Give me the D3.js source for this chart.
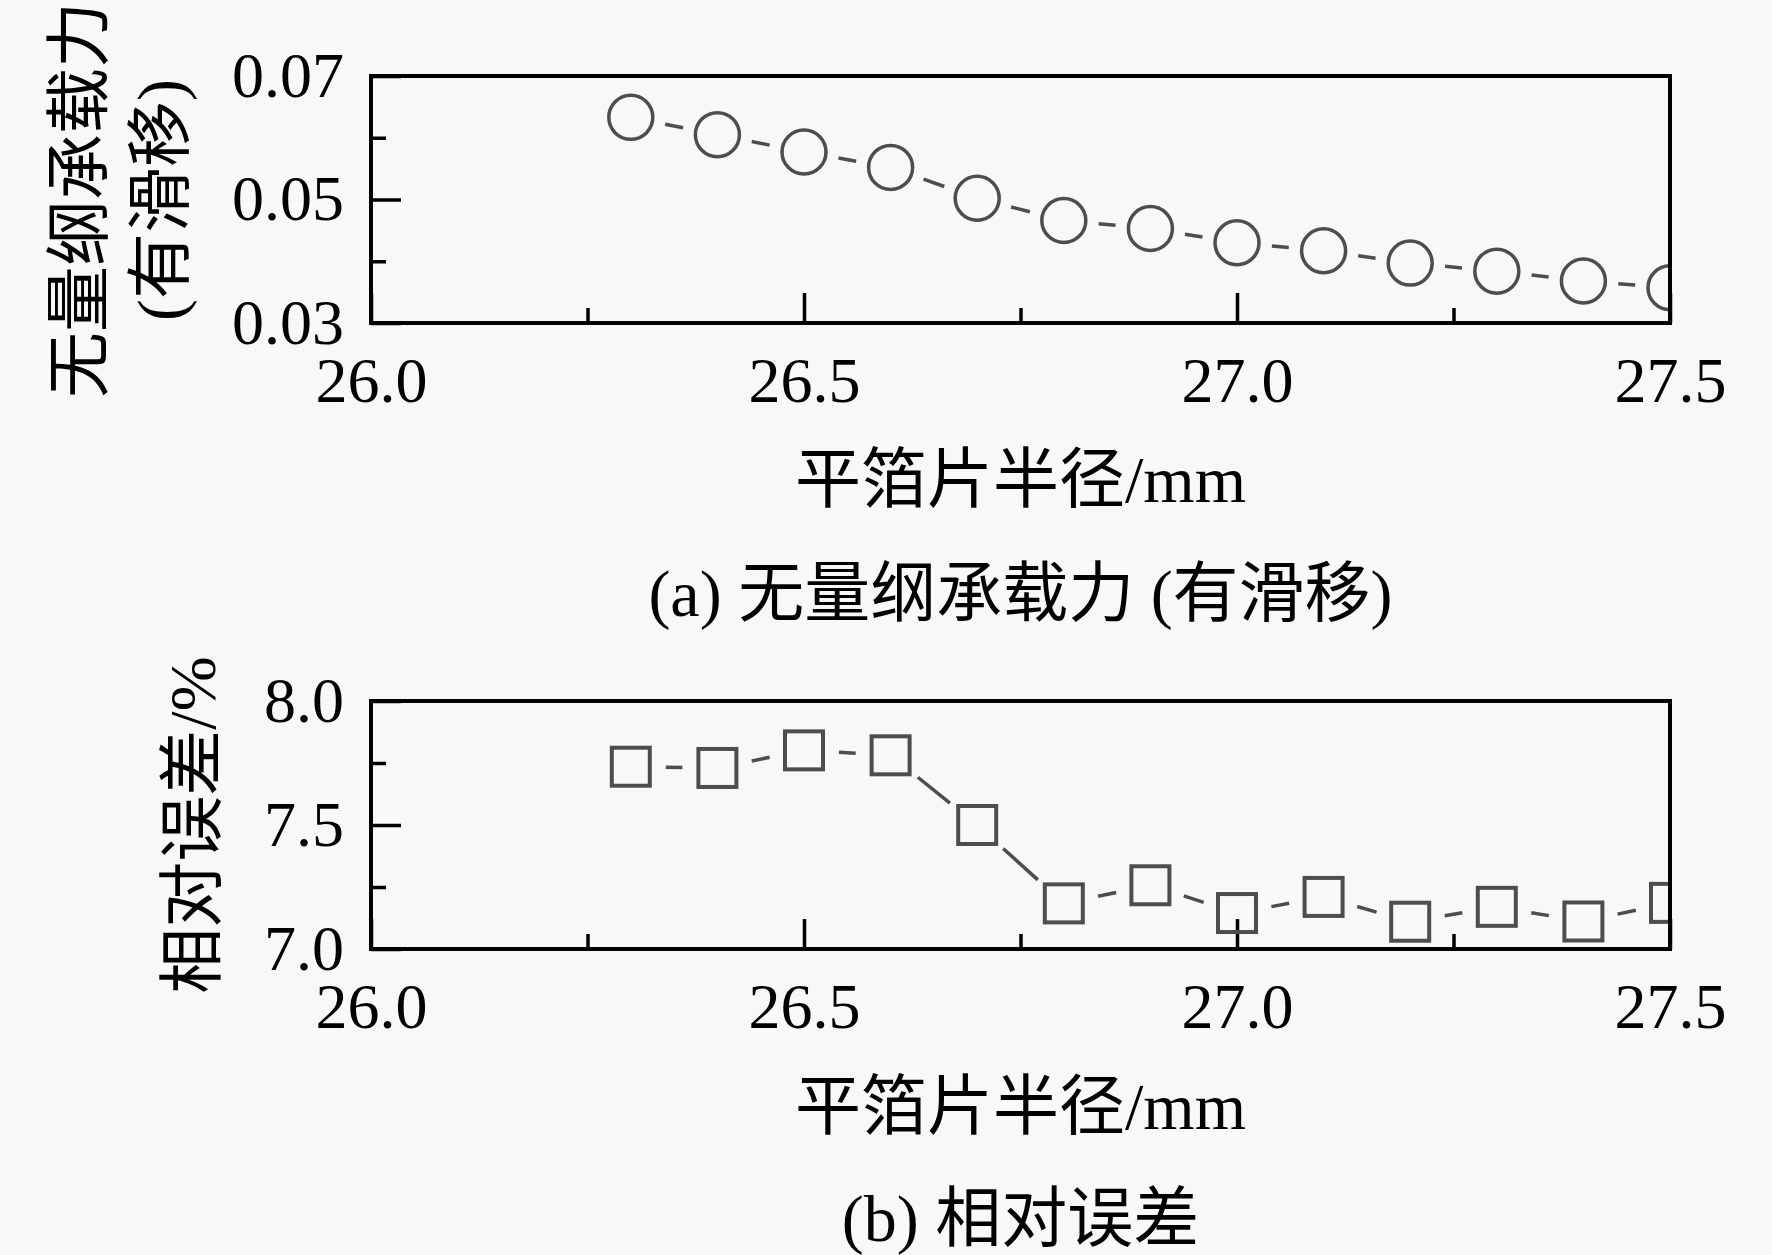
<!DOCTYPE html>
<html>
<head>
<meta charset="utf-8">
<script src="https://cdn.jsdelivr.net/npm/d3@7"></script>
<style>
  html, body { margin: 0; padding: 0; background: #f8f8f8; }
  svg { display: block; }
  text { font-family: "Liberation Serif", "Times New Roman", "Noto Sans CJK SC", serif; fill: #000; }
</style>
</head>
<body>
<script>
// ---- data ----
const radius = [26.3, 26.4, 26.5, 26.6, 26.7, 26.8, 26.9, 27.0, 27.1, 27.2, 27.3, 27.4, 27.5];
const loadCapacity = [0.0633, 0.0605, 0.0577, 0.0552, 0.0502, 0.0466, 0.0453, 0.0430, 0.0417, 0.0397, 0.0384, 0.0368, 0.0357];
const relError = [7.735, 7.730, 7.801, 7.781, 7.500, 7.184, 7.257, 7.145, 7.210, 7.110, 7.170, 7.111, 7.186];

const xTicks = [26.0, 26.5, 27.0, 27.5];
const xMinorTicks = [26.25, 26.75, 27.25];
const yTicksA = [0.03, 0.05, 0.07];
const yMinorA = [0.04, 0.06];
const yTicksB = [7.0, 7.5, 8.0];
const yMinorB = [7.25, 7.75];

const xTitle = "平箔片半径/mm";
const yTitleA = ["无量纲承载力", "(有滑移)"];
const yTitleB = "相对误差/%";
const captionA = "(a) 无量纲承载力 (有滑移)";
const captionB = "(b) 相对误差";

// ---- layout ----
const W = 1772, H = 1255;
const svg = d3.select("body").append("svg").attr("width", W).attr("height", H);
svg.append("rect").attr("width", W).attr("height", H).attr("fill", "#f8f8f8");

const left = 371, right = 1670;
const markColor = "#4d4d4d";

function panel(opts) {
  const { top, bottom, yDomain, yTicks, yMinor, yFmt, values, marker, id } = opts;
  const x = d3.scaleLinear().domain([26.0, 27.5]).range([left, right]);
  const y = d3.scaleLinear().domain(yDomain).range([bottom, top]);
  const g = svg.append("g");

  g.append("clipPath").attr("id", id).append("rect")
    .attr("x", left).attr("y", top).attr("width", right - left).attr("height", bottom - top);

  const xa = g.append("g").attr("transform", `translate(0,${bottom})`)
    .call(d3.axisBottom(x).tickValues(xTicks).tickFormat(d3.format(".1f")).tickSize(-30).tickPadding(34));
  const xm = g.append("g").attr("transform", `translate(0,${bottom})`)
    .call(d3.axisBottom(x).tickValues(xMinorTicks).tickFormat("").tickSize(-15));
  const ya = g.append("g").attr("transform", `translate(${left},0)`)
    .call(d3.axisLeft(y).tickValues(yTicks).tickFormat(d3.format(yFmt)).tickSize(-30).tickPadding(27));
  const ym = g.append("g").attr("transform", `translate(${left},0)`)
    .call(d3.axisLeft(y).tickValues(yMinor).tickFormat("").tickSize(-15));
  [xa, xm, ya, ym].forEach(a => {
    a.select(".domain").remove();
    a.selectAll("line").attr("stroke", "#000").attr("stroke-width", 3.5);
    a.selectAll("text").attr("font-size", 64).attr("fill", "#000")
      .style("font-family", '"Liberation Serif", "Times New Roman", serif');
  });

  const plot = g.append("g").attr("clip-path", `url(#${id})`);
  const gap = 35;
  const pts = radius.map((r, i) => [x(r), y(values[i])]);
  for (let i = 0; i < pts.length - 1; i++) {
    const [x1, y1] = pts[i], [x2, y2] = pts[i + 1];
    const dx = x2 - x1, dy = y2 - y1, L = Math.hypot(dx, dy);
    if (L <= 2 * gap) continue;
    const ux = dx / L, uy = dy / L;
    plot.append("line")
      .attr("x1", x1 + ux * gap).attr("y1", y1 + uy * gap)
      .attr("x2", x2 - ux * gap).attr("y2", y2 - uy * gap)
      .attr("stroke", markColor).attr("stroke-width", 3.5);
  }
  if (marker === "circle") {
    plot.selectAll("circle.m").data(radius).enter().append("circle")
      .attr("cx", (d) => x(d)).attr("cy", (d, i) => y(values[i])).attr("r", 22)
      .attr("fill", "none").attr("stroke", markColor).attr("stroke-width", 3.5);
  } else {
    const s = 38;
    plot.selectAll("rect.m").data(radius).enter().append("rect")
      .attr("x", (d) => x(d) - s / 2).attr("y", (d, i) => y(values[i]) - s / 2)
      .attr("width", s).attr("height", s)
      .attr("fill", "none").attr("stroke", markColor).attr("stroke-width", 4);
  }

  g.append("rect").attr("x", left).attr("y", top).attr("width", right - left).attr("height", bottom - top)
    .attr("fill", "none").attr("stroke", "#000").attr("stroke-width", 4);
  return { x, y };
}

panel({ top: 76, bottom: 323, yDomain: [0.03, 0.07], yTicks: yTicksA, yMinor: yMinorA, yFmt: ".2f",
        values: loadCapacity, marker: "circle", id: "clipA" });
panel({ top: 701, bottom: 949, yDomain: [7.0, 8.0], yTicks: yTicksB, yMinor: yMinorB, yFmt: ".1f",
        values: relError, marker: "square", id: "clipB" });

const fs = 66;
const cx = (left + right) / 2;
function label(txt, xx, yy, rot) {
  const t = svg.append("text").attr("font-size", fs).attr("text-anchor", "middle").text(txt);
  if (rot) t.attr("transform", `translate(${xx},${yy}) rotate(-90)`);
  else t.attr("x", xx).attr("y", yy);
  return t;
}
label(xTitle, cx, 502);
label(captionA, cx, 616);
label(xTitle, cx, 1129);
label(captionB, cx, 1241);
label(yTitleA[0], 102, 200, true);
label(yTitleA[1], 183, 200, true);
label(yTitleB, 215, 825, true);
</script>
</body>
</html>
